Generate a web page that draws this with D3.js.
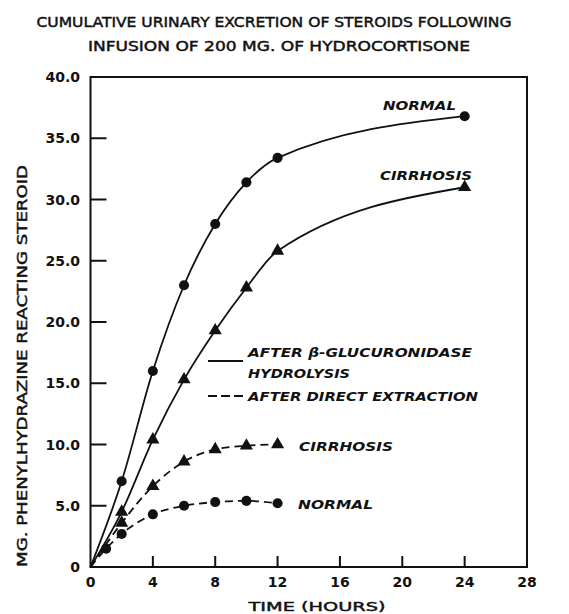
<!DOCTYPE html>
<html>
<head>
<meta charset="utf-8">
<script src="https://cdn.jsdelivr.net/npm/d3@7"></script>
<style>
  body { margin: 0; background: #fff; }
  text { font-family: "DejaVu Sans", sans-serif; fill: #111; }
  .heavy { stroke: #111; stroke-width: 0.45px; }
</style>
</head>
<body>
<div id="chart"></div>
<script>
// values
const hoursHyd = [0, 2, 4, 6, 8, 10, 12, 24];
const normalHyd = [0, 7.0, 16.0, 23.0, 28.0, 31.4, 33.4, 36.8];
const cirrhosisHyd = [0, 4.5, 10.4, 15.3, 19.3, 22.8, 25.8, 31.0];
const hoursDirNormal = [0, 1, 2, 4, 6, 8, 10, 12];
const normalDir = [0, 1.5, 2.7, 4.3, 5.0, 5.3, 5.4, 5.2];
const hoursDirCirr = [0, 2, 4, 6, 8, 10, 12];
const cirrhosisDir = [0, 3.6, 6.6, 8.6, 9.6, 9.9, 10.0];
const xTicks = [0, 4, 8, 12, 16, 20, 24, 28];
const yTicks = [0, 5, 10, 15, 20, 25, 30, 35, 40];

const W = 569, H = 614;
const svg = d3.select("#chart").append("svg")
    .attr("width", W).attr("height", H);

let x = d3.scaleLinear().domain([0, 28]).range([90.5, 527]);
let y = d3.scaleLinear().domain([0, 40]).range([567, 77]);

// title
svg.append("text").attr("class", "heavy").attr("x", 274).attr("y", 26.5)
    .attr("text-anchor", "middle").style("font-size", "13.5px")
    .attr("textLength", 475).attr("lengthAdjust", "spacingAndGlyphs")
    .text("CUMULATIVE URINARY EXCRETION OF STEROIDS FOLLOWING");
svg.append("text").attr("class", "heavy").attr("x", 279).attr("y", 51)
    .attr("text-anchor", "middle").style("font-size", "13.5px")
    .attr("textLength", 382).attr("lengthAdjust", "spacingAndGlyphs")
    .text("INFUSION  OF  200  MG.  OF  HYDROCORTISONE");

// frame
svg.append("rect")
    .attr("x", x(0)).attr("y", y(40))
    .attr("width", x(28) - x(0)).attr("height", y(0) - y(40))
    .attr("fill", "none").attr("stroke", "#111").attr("stroke-width", 2);

// y ticks (inside)
svg.append("g").selectAll("line").data(yTicks.slice(1, -1)).enter()
    .append("line")
    .attr("x1", x(0)).attr("x2", x(0) + 16)
    .attr("y1", d => y(d)).attr("y2", d => y(d))
    .attr("stroke", "#111").attr("stroke-width", 2);
svg.append("g").selectAll("text").data(yTicks).enter()
    .append("text")
    .attr("x", 80).attr("y", d => y(d) + 5)
    .attr("text-anchor", "end")
    .style("font-size", "14px").style("font-weight", "bold")
    .text(d => d === 0 ? "0" : d.toFixed(1));

// x ticks (inside)
svg.append("g").selectAll("line").data(xTicks.slice(1, -1)).enter()
    .append("line")
    .attr("x1", d => x(d)).attr("x2", d => x(d))
    .attr("y1", y(0)).attr("y2", y(0) - 11)
    .attr("stroke", "#111").attr("stroke-width", 2);
svg.append("g").selectAll("text").data(xTicks).enter()
    .append("text")
    .attr("x", d => x(d)).attr("y", 587)
    .attr("text-anchor", "middle")
    .style("font-size", "14px").style("font-weight", "bold")
    .text(d => d);

// axis titles
svg.append("text").attr("class", "heavy").attr("x", 317).attr("y", 610.5)
    .attr("text-anchor", "middle").style("font-size", "13px")
    .attr("textLength", 137).attr("lengthAdjust", "spacingAndGlyphs")
    .text("TIME  (HOURS)");
svg.append("text").attr("class", "heavy")
    .attr("transform", "translate(27, 366) rotate(-90)")
    .attr("text-anchor", "middle").style("font-size", "13.5px")
    .attr("textLength", 402).attr("lengthAdjust", "spacingAndGlyphs")
    .text("MG.  PHENYLHYDRAZINE  REACTING  STEROID");

// curves
const line = d3.line()
    .x(d => x(d[0])).y(d => y(d[1]))
    .curve(d3.curveMonotoneX);

function series(hours, vals, dashed, marker) {
    const pts = hours.map((h, i) => [h, vals[i]]);
    svg.append("path")
        .attr("d", line(pts))
        .attr("fill", "none").attr("stroke", "#111")
        .attr("stroke-width", 1.8)
        .attr("stroke-dasharray", dashed ? "8,5" : null);
    const sym = d3.symbol()
        .type(marker === "circle" ? d3.symbolCircle : d3.symbolTriangle)
        .size(marker === "circle" ? 80 : 75);
    svg.append("g").selectAll("path").data(pts.filter(p => p[0] > 0)).enter()
        .append("path")
        .attr("d", sym)
        .attr("transform", d => `translate(${x(d[0])},${y(d[1])})`)
        .attr("fill", "#111");
}

series(hoursHyd, normalHyd, false, "circle");
series(hoursHyd, cirrhosisHyd, false, "triangle");
series(hoursDirCirr, cirrhosisDir, true, "triangle");
series(hoursDirNormal, normalDir, true, "circle");

// curve labels
function label(txt, lx, ly, len) {
    svg.append("text").attr("x", lx).attr("y", ly)
        .style("font-size", "13px").style("font-weight", "bold")
        .style("font-style", "italic")
        .attr("textLength", len).attr("lengthAdjust", "spacingAndGlyphs")
        .text(txt);
}
label("NORMAL", 383, 110, 73);
label("CIRRHOSIS", 380, 180, 92);
label("CIRRHOSIS", 299, 451, 94);
label("NORMAL", 298, 509, 75);

// legend
svg.append("line").attr("x1", 208).attr("x2", 243)
    .attr("y1", 361).attr("y2", 361)
    .attr("stroke", "#111").attr("stroke-width", 1.8);
svg.append("line").attr("x1", 208).attr("x2", 244)
    .attr("y1", 396).attr("y2", 396)
    .attr("stroke", "#111").attr("stroke-width", 1.8)
    .attr("stroke-dasharray", "9,4");
label("AFTER  \u03B2-GLUCURONIDASE", 248, 357, 224);
label("HYDROLYSIS", 248, 378, 102);
label("AFTER  DIRECT  EXTRACTION", 248, 401, 230);
</script>
</body>
</html>
